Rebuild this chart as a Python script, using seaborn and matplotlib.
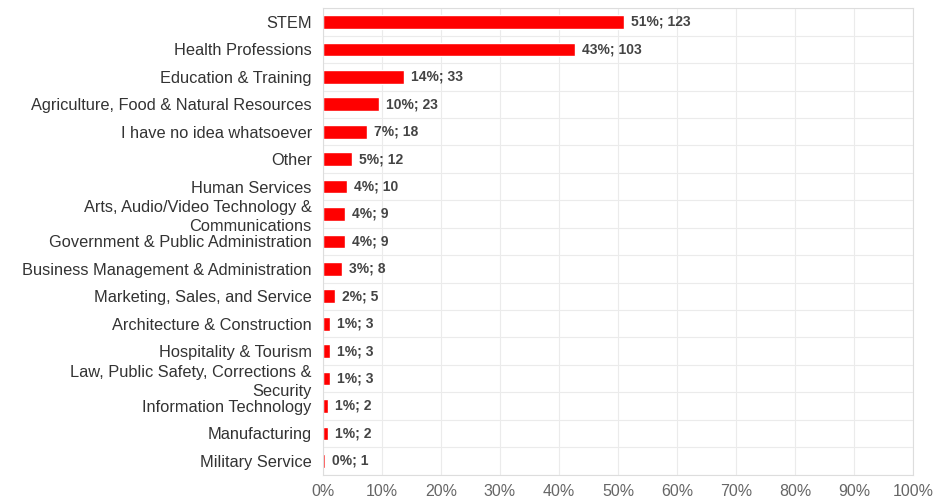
import matplotlib.pyplot as plt
import seaborn as sns
import pandas as pd

# career clusters and responses
categories = [
    "STEM",
    "Health Professions",
    "Education & Training",
    "Agriculture, Food & Natural Resources",
    "I have no idea whatsoever",
    "Other",
    "Human Services",
    "Arts, Audio/Video Technology &\nCommunications",
    "Government & Public Administration",
    "Business Management & Administration",
    "Marketing, Sales, and Service",
    "Architecture & Construction",
    "Hospitality & Tourism",
    "Law, Public Safety, Corrections &\nSecurity",
    "Information Technology",
    "Manufacturing",
    "Military Service",
]
shares = [51.0, 42.7, 13.7, 9.5, 7.5, 5.0, 4.1, 3.7, 3.7, 3.3, 2.1, 1.2, 1.2, 1.2, 0.8, 0.8, 0.4]
pct_labels = [51, 43, 14, 10, 7, 5, 4, 4, 4, 3, 2, 1, 1, 1, 1, 1, 0]
counts = [123, 103, 33, 23, 18, 12, 10, 9, 9, 8, 5, 3, 3, 3, 2, 2, 1]
xticks = [0, 10, 20, 30, 40, 50, 60, 70, 80, 90, 100]

df = pd.DataFrame({"category": categories, "share": shares})

sns.set_style("white")
plt.rcParams['font.family'] = ['Liberation Sans', 'DejaVu Sans']

fig = plt.figure(figsize=(9.36, 4.99), dpi=100)
ax = fig.add_axes([0.345, 0.049, 0.6305, 0.9345])

sns.barplot(data=df, x="share", y="category", orient="h", color="#ff0000",
            saturation=1, width=0.5, ax=ax)

labels = [f"{p}%; {c}" for p, c in zip(pct_labels, counts)]
ax.bar_label(ax.containers[0], labels=labels, padding=5, fontsize=10,
             fontweight="bold", color="#444444")

ax.set_xlim(0, 100)
ax.set_xticks(xticks)
ax.set_xticklabels([f"{t}%" for t in xticks])
ax.set_yticks(range(len(categories)), minor=False)
ax.set_yticks([i + 0.5 for i in range(-1, len(categories))], minor=True)
ax.set_ylim(len(categories) - 0.5, -0.5)
for lab in ax.get_yticklabels():
    lab.set_linespacing(1.3)

ax.grid(axis="x", color="#ebebeb", linewidth=0.8)
ax.grid(axis="y", which="minor", color="#ebebeb", linewidth=0.8)
ax.set_axisbelow(True)
ax.tick_params(axis="both", which="both", length=0)
ax.tick_params(axis="y", labelsize=11.8, labelcolor="#333333", pad=8)
ax.tick_params(axis="x", labelsize=11.5, labelcolor="#666666", pad=7)
ax.set_xlabel("")
ax.set_ylabel("")
for s in ax.spines.values():
    s.set_color("#dddddd")
    s.set_linewidth(0.8)

fig.savefig("out.png", dpi=100)
